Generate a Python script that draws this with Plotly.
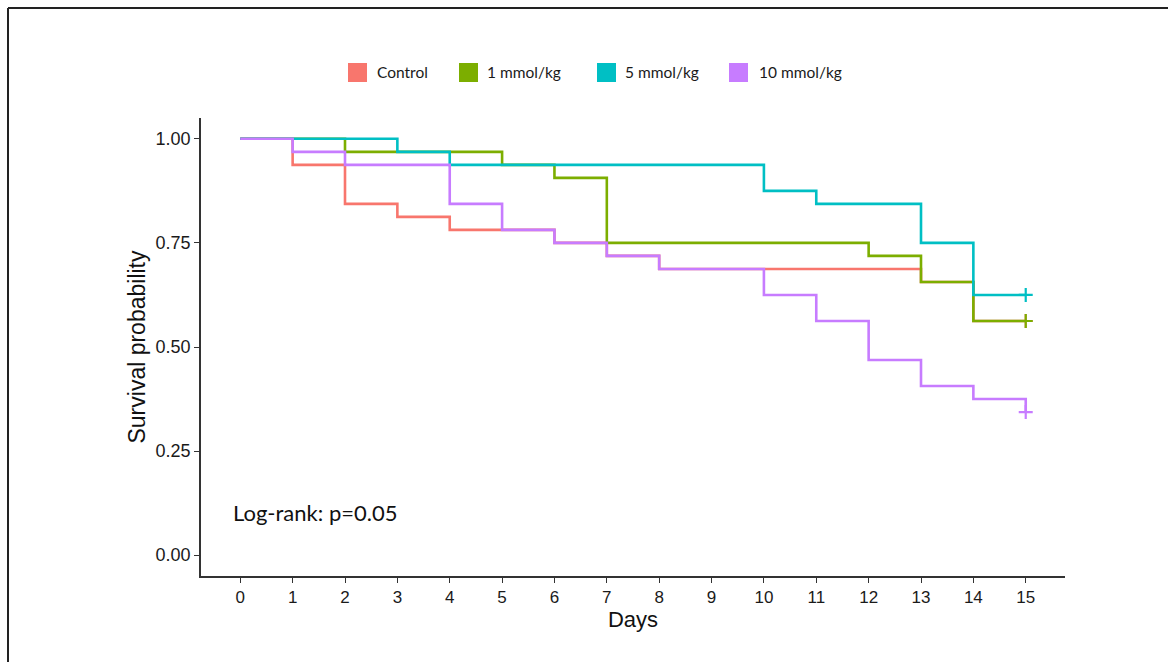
import plotly.graph_objects as go

# Kaplan-Meier step estimates per group (time in days, survival probability)
groups = ["Control", "1 mmol/kg", "5 mmol/kg", "10 mmol/kg"]
colors = ["#F8766D", "#7CAE00", "#00BFC4", "#C77CFF"]

control_days = [0, 1, 2, 3, 4, 6, 7, 8, 13, 14, 15]
control_surv = [1.0, 0.9375, 0.84375, 0.8125, 0.78125, 0.75, 0.71875, 0.6875, 0.65625, 0.5625, 0.5625]

low_days = [0, 2, 5, 6, 7, 12, 13, 14, 15]
low_surv = [1.0, 0.96875, 0.9375, 0.90625, 0.75, 0.71875, 0.65625, 0.5625, 0.5625]

mid_days = [0, 3, 4, 10, 11, 13, 14, 15]
mid_surv = [1.0, 0.96875, 0.9375, 0.875, 0.84375, 0.75, 0.625, 0.625]

high_days = [0, 1, 2, 4, 5, 6, 7, 8, 10, 11, 12, 13, 14, 15]
high_surv = [1.0, 0.96875, 0.9375, 0.84375, 0.78125, 0.75, 0.71875, 0.6875, 0.625, 0.5625,
             0.46875, 0.40625, 0.375, 0.34375]

series_days = [control_days, low_days, mid_days, high_days]
series_surv = [control_surv, low_surv, mid_surv, high_surv]

x_ticks = list(range(0, 16))
y_ticks = [0.0, 0.25, 0.5, 0.75, 1.0]
pval_text = "Log-rank: p=0.05"

W, H = 1168, 662
ML, MR, MT, MB = 201, 103, 118, 86


def px_x(px):
    return (px - ML) / (W - ML - MR)


def px_y(py):
    return (H - MB - py) / (H - MT - MB)


fig = go.Figure()

for name, color, days, surv in zip(groups, colors, series_days, series_surv):
    fig.add_trace(go.Scatter(
        x=days, y=surv, mode="lines", line=dict(color=color, width=2.6, shape="hv"),
        name=name, showlegend=False, hoverinfo="x+y+name",
    ))
    # censoring mark at the end of follow-up
    fig.add_trace(go.Scatter(
        x=[days[-1]], y=[surv[-1]], mode="markers",
        marker=dict(symbol="cross-thin", size=10, line=dict(width=2.2, color=color)),
        showlegend=False, hoverinfo="skip",
    ))

# legend drawn as filled swatches with labels above the panel
legend_swatch_left = [348, 459, 597, 729]
legend_text_left = [375, 485, 623, 757]
shapes = []
annotations = []
for name, color, sx, tx in zip(groups, colors, legend_swatch_left, legend_text_left):
    shapes.append(dict(type="rect", xref="paper", yref="paper",
                       x0=px_x(sx), x1=px_x(sx + 19), y0=px_y(82), y1=px_y(63),
                       fillcolor=color, line=dict(width=0)))
    annotations.append(dict(text=name, xref="paper", yref="paper", x=px_x(tx), y=px_y(72),
                            xanchor="left", yanchor="middle", showarrow=False,
                            font=dict(family="Lato", size=15.5, color="#1a1a1a")))

annotations.append(dict(text=pval_text, xref="x", yref="y", x=-0.18, y=0.103,
                        xanchor="left", yanchor="middle", showarrow=False,
                        font=dict(family="Lato", size=22, color="#111111")))

# page frame along the top and left edges
shapes.append(dict(type="line", xref="paper", yref="paper",
                   x0=px_x(8), x1=px_x(W), y0=px_y(8), y1=px_y(8),
                   line=dict(color="#222222", width=2)))
shapes.append(dict(type="line", xref="paper", yref="paper",
                   x0=px_x(8), x1=px_x(8), y0=px_y(8), y1=px_y(H),
                   line=dict(color="#222222", width=2)))

fig.update_layout(
    width=W, height=H,
    margin=dict(l=ML, r=MR, t=MT, b=MB),
    paper_bgcolor="white", plot_bgcolor="white",
    shapes=shapes, annotations=annotations,
    font=dict(family="Liberation Sans, Arial", color="#1a1a1a"),
)
fig.update_xaxes(
    range=[-0.75, 15.75], tickvals=x_ticks, ticktext=[str(t) for t in x_ticks],
    showgrid=False, zeroline=False, showline=True, linecolor="#333333", linewidth=1.5,
    ticks="outside", ticklen=5, tickcolor="#333333", tickwidth=1,
    tickfont=dict(size=17, color="#1a1a1a"),
    title=dict(text="Days", font=dict(size=22, color="#111111"), standoff=4),
)
fig.update_yaxes(
    range=[-0.05, 1.05], tickvals=y_ticks, ticktext=[f"{v:.2f}" for v in y_ticks],
    showgrid=False, zeroline=False, showline=True, linecolor="#333333", linewidth=1.5,
    ticks="outside", ticklen=5, tickcolor="#333333", tickwidth=1,
    tickfont=dict(size=18, color="#1a1a1a"),
    title=dict(text="Survival probability", font=dict(size=23, color="#111111"), standoff=4),
)

fig.write_html("out.html")
